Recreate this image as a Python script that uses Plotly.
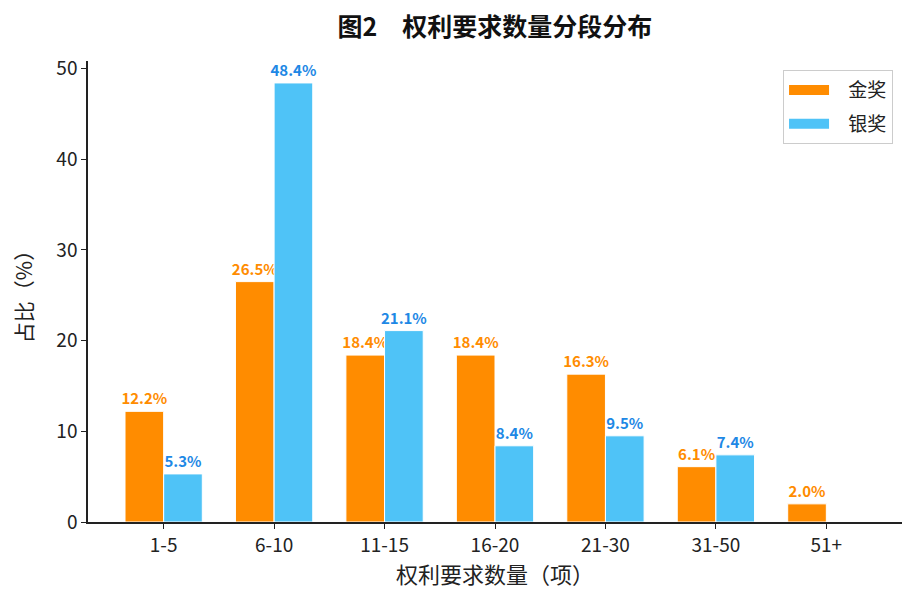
import plotly.graph_objects as go

categories = ["1-5", "6-10", "11-15", "16-20", "21-30", "31-50", "51+"]
gold = [12.2, 26.5, 18.4, 18.4, 16.3, 6.1, 2.0]
silver = [5.3, 48.4, 21.1, 8.4, 9.5, 7.4, 0.0]

x = list(range(len(categories)))
font = "Noto Sans CJK SC"
GOLD = "#FF8C00"
SILVER = "#4FC3F7"

def labels(vals):
    return [f"{v:.1f}%" if v > 0 else "" for v in vals]

fig = go.Figure()
fig.add_trace(go.Bar(
    x=x, y=gold, name="金奖", showlegend=False,
    marker=dict(color=GOLD, line=dict(color="white", width=1)),
    text=labels(gold), textposition="outside", cliponaxis=False, constraintext="none",
    textfont=dict(color=GOLD, size=15, family=font, weight="bold"),
))
fig.add_trace(go.Bar(
    x=x, y=silver, name="银奖", showlegend=False,
    marker=dict(color=SILVER, line=dict(color="white", width=1)),
    text=labels(silver), textposition="outside", cliponaxis=False, constraintext="none",
    textfont=dict(color="#1E88E5", size=15, family=font, weight="bold"),
))
# legend entries (patch-like swatches)
for name, col in (("金奖", GOLD), ("银奖", SILVER)):
    fig.add_trace(go.Scatter(x=[None], y=[None], mode="lines", name="\u2002\u2005" + name,
                             legendgroup=name, line=dict(color=col, width=12)))

W, H = 908, 600
fig.update_layout(
    width=W, height=H,
    margin=dict(l=80, r=14, t=53, b=86),
    barmode="group", bargap=0.3, bargroupgap=0,
    plot_bgcolor="white", paper_bgcolor="white",
    font=dict(family=font, size=18, color="#222"),
    title=dict(text="<b>图2\u2002\u2002权利要求数量分段分布</b>", x=0.5, xanchor="center",
               xref="paper", y=1 - 19 / H, yanchor="middle",
               font=dict(size=25, family=font, color="#111")),
    legend=dict(x=0.989, y=0.98, xanchor="right", yanchor="top",
                bordercolor="#cccccc", borderwidth=1, bgcolor="white",
                font=dict(size=19, family=font), itemwidth=40, tracegroupgap=6),
)
fig.update_xaxes(
    range=[-0.685, 6.685], tickmode="array", tickvals=x, ticktext=categories,
    showline=True, linecolor="#222", linewidth=1.5, ticks="outside", ticklen=5,
    tickcolor="#222", showgrid=False, zeroline=False, automargin=False,
    tickfont=dict(size=19),
    title=dict(text="权利要求数量（项）", font=dict(size=22, family=font), standoff=12),
)
fig.update_yaxes(
    range=[0, 50.82], tickvals=[0, 10, 20, 30, 40, 50],
    showline=True, linecolor="#222", linewidth=1.5, ticks="outside", ticklen=5,
    tickcolor="#222", showgrid=False, zeroline=False, automargin=False,
    tickfont=dict(size=19),
    title=dict(text="占比（%）", font=dict(size=21, family=font), standoff=18),
)
fig.write_html("out.html")
